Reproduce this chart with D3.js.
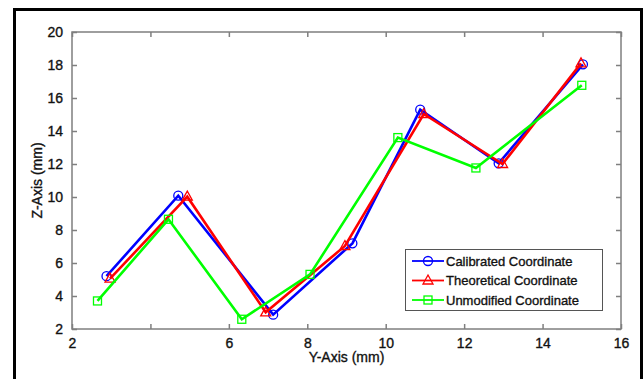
<!DOCTYPE html>
<html><head><meta charset="utf-8">
<script src="https://cdn.jsdelivr.net/npm/d3@7"></script>
<style>body{margin:0;background:#fff;} svg{display:block;font-family:"Liberation Sans",Arial,sans-serif;} text{stroke:#111;stroke-width:0.35px;}</style>
</head><body>
<script>
const seriesNames = ["Calibrated Coordinate", "Theoretical Coordinate", "Unmodified Coordinate"];
const calibratedX = [2.88, 4.71, 7.13, 9.15, 10.88, 12.88, 15.03];
const calibratedY = [5.2, 10.08, 2.87, 7.19, 15.29, 12.04, 18.04];
const theoreticalX = [2.97, 4.94, 6.94, 8.96, 10.97, 12.98, 14.98];
const theoreticalY = [5.05, 10.02, 3.01, 7.03, 15.03, 12.0, 18.1];
const unmodifiedX = [2.65, 4.46, 6.33, 8.07, 10.31, 12.3, 15.0];
const unmodifiedY = [3.7, 8.65, 2.59, 5.31, 13.6, 11.76, 16.77];
const xTicks = [2, 4, 6, 8, 10, 12, 14, 16];
const xTickLabels = ["2", "", "6", "8", "10", "12", "14", "16"];
const yTicks = [2, 4, 6, 8, 10, 12, 14, 16, 18, 20];
const xTitle = "Y-Axis (mm)";
const yTitle = "Z-Axis (mm)";

const W = 643, H = 379;
const L = 72, R = 621, T = 32, B = 329;
const svg = d3.select("body").append("svg").attr("width", W).attr("height", H);

// outer frame
svg.append("path").attr("d", `M14.5,${H+2} L14.5,9.5 L641.5,9.5 L641.5,${H+2}`)
  .attr("fill", "none").attr("stroke", "#000").attr("stroke-width", 3);

const x = d3.scaleLinear().domain([2, 16]).range([L, R]);
const y = d3.scaleLinear().domain([2, 20]).range([B, T]);

const axisColor = "#7f7f7f";
const g = svg.append("g");

// plot box
g.append("rect").attr("x", L).attr("y", T).attr("width", R - L).attr("height", B - T)
  .attr("fill", "none").attr("stroke", axisColor).attr("stroke-width", 1.5);

function styleAxis(sel) {
  sel.select(".domain").remove();
  sel.selectAll(".tick line").attr("stroke", axisColor).attr("stroke-width", 1.5);
  sel.selectAll(".tick text").attr("fill", "#111").style("font-size", "14px")
    .style("font-family", '"Liberation Sans",Arial,sans-serif');
}

// bottom axis (ticks inward)
const xb = g.append("g").attr("transform", `translate(0,${B})`)
  .call(d3.axisBottom(x).tickValues(xTicks).tickSize(-5).tickPadding(9)
    .tickFormat((d, i) => xTickLabels[i]));
styleAxis(xb);
// top axis mirror
const xt = g.append("g").attr("transform", `translate(0,${T})`)
  .call(d3.axisTop(x).tickValues(xTicks).tickSize(-5).tickFormat(""));
styleAxis(xt);
// left axis
const yl = g.append("g").attr("transform", `translate(${L},0)`)
  .call(d3.axisLeft(y).tickValues(yTicks).tickSize(-5).tickPadding(9).tickFormat(d3.format("d")));
styleAxis(yl);
// right axis mirror
const yr = g.append("g").attr("transform", `translate(${R},0)`)
  .call(d3.axisRight(y).tickValues(yTicks).tickSize(-5).tickFormat(""));
styleAxis(yr);

// axis titles
svg.append("text").attr("x", (L + R) / 2).attr("y", 362).attr("text-anchor", "middle")
  .style("font-size", "14px").attr("fill", "#111").text(xTitle);
svg.append("text").attr("transform", `translate(42,${(T + B) / 2}) rotate(-90)`)
  .attr("text-anchor", "middle").style("font-size", "14px").attr("fill", "#111").text(yTitle);

const series = [
  { name: seriesNames[0], xs: calibratedX, ys: calibratedY, color: "#0000ff", marker: "circle" },
  { name: seriesNames[1], xs: theoreticalX, ys: theoreticalY, color: "#ff0000", marker: "triangle" },
  { name: seriesNames[2], xs: unmodifiedX, ys: unmodifiedY, color: "#00ff00", marker: "square" }
];

function drawMarker(sel, type, cx, cy, color) {
  if (type === "circle") {
    sel.append("circle").attr("cx", cx).attr("cy", cy).attr("r", 4.5)
      .attr("fill", "none").attr("stroke", color).attr("stroke-width", 1.3);
  } else if (type === "square") {
    sel.append("rect").attr("x", cx - 4).attr("y", cy - 4).attr("width", 8).attr("height", 8)
      .attr("fill", "none").attr("stroke", color).attr("stroke-width", 1.3);
  } else {
    sel.append("path").attr("d", `M${cx},${cy - 5.5} L${cx + 5},${cy + 3.5} L${cx - 5},${cy + 3.5} Z`)
      .attr("fill", "none").attr("stroke", color).attr("stroke-width", 1.3);
  }
}

const line = d3.line().x(d => x(d[0])).y(d => y(d[1]));
series.forEach(s => {
  const pts = s.xs.map((v, i) => [v, s.ys[i]]);
  const sg = svg.append("g");
  sg.append("path").datum(pts).attr("d", line).attr("fill", "none")
    .attr("stroke", s.color).attr("stroke-width", 2.6).attr("stroke-linejoin", "miter");
  pts.forEach(p => drawMarker(sg, s.marker, x(p[0]), y(p[1]), s.color));
});

// legend
const lg = svg.append("g");
lg.append("rect").attr("x", 405.5).attr("y", 249.5).attr("width", 197).attr("height", 61)
  .attr("fill", "#fff").attr("stroke", "#555").attr("stroke-width", 1);
series.forEach((s, i) => {
  const yy = 261 + i * 19.5;
  lg.append("line").attr("x1", 412).attr("x2", 444).attr("y1", yy).attr("y2", yy)
    .attr("stroke", s.color).attr("stroke-width", 1.8);
  drawMarker(lg, s.marker, 428, yy, s.color);
  lg.append("text").attr("x", 446).attr("y", yy + 4.5).style("font-size", "13px")
    .attr("fill", "#111").text(s.name);
});
</script>
</body></html>
